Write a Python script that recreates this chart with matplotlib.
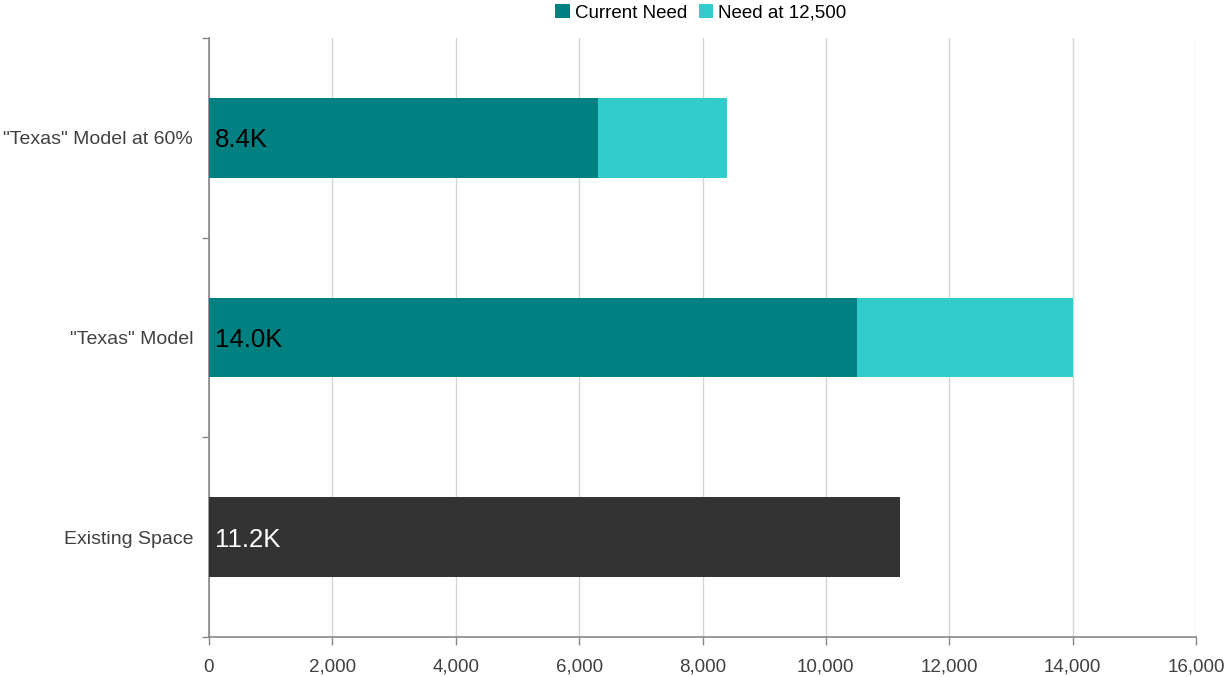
import matplotlib
matplotlib.use("Agg")
import matplotlib.pyplot as plt
from matplotlib.patches import Patch

plt.rcParams['font.family'] = ['Liberation Sans', 'DejaVu Sans']

# Data
categories = ["Existing Space", '"Texas" Model', '"Texas" Model at 60%']
current_need = [11200, 10500, 6300]
need_at_12500 = [0, 3500, 2100]
totals = [11200, 14000, 8400]
value_labels = ["11.2K", "14.0K", "8.4K"]
x_ticks = [0, 2000, 4000, 6000, 8000, 10000, 12000, 14000, 16000]

teal = "#008080"
light_teal = "#33CCCC"
dark = "#333333"
text_color = "#404040"

fig = plt.figure(figsize=(12.27, 6.77), dpi=100)
ax = fig.add_axes([209 / 1227, 1 - 637 / 677, (1196 - 209) / 1227, (637 - 38) / 677])

ypos = list(range(len(categories)))
bar_h = 0.4
base_colors = [dark, teal, teal]
ax.barh(ypos, current_need, height=bar_h, color=base_colors, zorder=3)
ax.barh(ypos, need_at_12500, left=current_need, height=bar_h, color=light_teal, zorder=3)

for y, lab, col in zip(ypos, value_labels, ["white", "black", "black"]):
    ax.text(100, y, lab, va="center_baseline", ha="left", fontsize=18.5, color=col, zorder=4)

ax.set_xlim(0, 16000)
ax.set_ylim(-0.5, len(categories) - 0.5)
ax.set_xticks(x_ticks)
ax.set_xticklabels([f"{v:,}" for v in x_ticks], fontsize=13.5, color=text_color)
ax.tick_params(axis="x", length=6, width=1, color="#888888", pad=9.5)

# category boundaries as major ticks, names as minor ticks
ax.set_yticks([i - 0.5 for i in range(len(categories) + 1)])
ax.set_yticklabels([])
ax.tick_params(axis="y", which="major", length=5, width=1, color="#888888")
ax.set_yticks(ypos, minor=True)
ax.set_yticklabels(categories, minor=True, fontsize=14, color=text_color)
ax.tick_params(axis="y", which="minor", length=0, pad=11.5)

ax.grid(axis="x", color="#d4d4d4", linewidth=1, zorder=0)
ax.set_axisbelow(True)
for side in ["top", "right"]:
    ax.spines[side].set_visible(False)
for side in ["left", "bottom"]:
    ax.spines[side].set_color("#888888")
    ax.spines[side].set_linewidth(1.2)

handles = [Patch(facecolor=teal, label="Current Need"),
           Patch(facecolor=light_teal, label="Need at 12,500")]
fig.legend(handles=handles, loc="center", bbox_to_anchor=(701 / 1227, 1 - 13 / 677),
           ncol=2, frameon=False, fontsize=13.5, handlelength=0.75, handleheight=0.75,
           handletextpad=0.3, columnspacing=0.6, borderaxespad=0)

fig.savefig("out.png", dpi=100)
